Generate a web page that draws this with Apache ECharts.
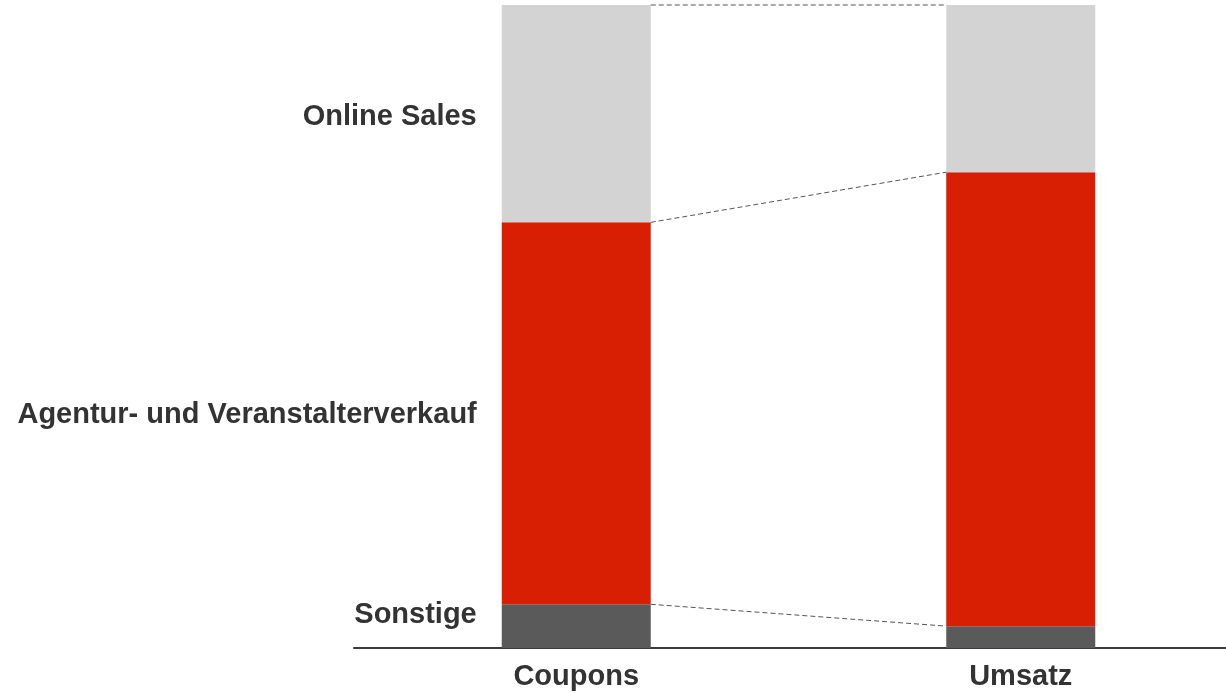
<!DOCTYPE html>
<html>
<head>
<meta charset="utf-8">
<script src="https://cdn.jsdelivr.net/npm/echarts@6/dist/echarts.min.js"></script>
<style>
html,body{margin:0;padding:0;background:#fff;}
#chart{width:1226px;height:693px;}
</style>
</head>
<body>
<div id="chart"></div>
<script>
// Data
var categories = ['Coupons', 'Umsatz'];
var seriesNames = ['Sonstige', 'Agentur- und Veranstalterverkauf', 'Online Sales'];
var sonstige = [6.8, 3.4];
var agentur = [59.4, 70.6];
var online = [33.8, 26.0];

var colors = ['#5a5a5a', '#d91f03', '#d3d3d3'];
var values = [sonstige, agentur, online];
var FONT = '"Liberation Sans", Arial, sans-serif';
var BAR_W = 149;

// cumulative boundaries for connector lines
var connectors = [];
var cumA = 0, cumB = 0;
for (var s = 0; s < values.length; s++) {
  cumA += values[s][0];
  cumB += values[s][1];
  connectors.push([0, cumA, cumB]);
}

var labelOffsets = [[0, -11], [0, 2], [0, 3]];

var barSeries = values.map(function (arr, s) {
  return {
    name: seriesNames[s],
    type: 'bar',
    stack: 'total',
    barWidth: BAR_W,
    itemStyle: { color: colors[s] },
    data: arr.map(function (v, i) {
      if (i === 0) {
        return {
          value: v,
          label: {
            show: true,
            position: 'left',
            distance: 25,
            offset: labelOffsets[s],
            formatter: seriesNames[s],
            color: '#333',
            fontFamily: FONT,
            fontWeight: 'bold',
            fontSize: 29
          }
        };
      }
      return v;
    })
  };
});

var chart = echarts.init(document.getElementById('chart'));
chart.setOption({
  animation: false,
  grid: { left: 354, top: 5, bottom: 45, width: 889, outerBoundsMode: 'none', containLabel: false },
  xAxis: {
    type: 'category',
    data: categories,
    axisTick: { show: false },
    axisLine: { lineStyle: { color: '#3a3a3a', width: 2 } },
    axisLabel: {
      color: '#333',
      fontFamily: FONT,
      fontWeight: 'bold',
      fontSize: 29,
      margin: 14
    }
  },
  yAxis: { type: 'value', min: 0, max: 100, show: false },
  series: barSeries.concat([{
    type: 'custom',
    name: 'connectors',
    clip: false,
    silent: true,
    encode: { x: 0, y: 1 },
    data: connectors,
    z: 5,
    renderItem: function (params, api) {
      var p1 = api.coord([0, api.value(1)]);
      var p2 = api.coord([1, api.value(2)]);
      return {
        type: 'line',
        shape: { x1: p1[0] + BAR_W / 2, y1: p1[1], x2: p2[0] - BAR_W / 2, y2: p2[1] },
        style: { stroke: '#555', lineWidth: 1, lineDash: [5, 3] }
      };
    }
  }])
});
</script>
</body>
</html>
